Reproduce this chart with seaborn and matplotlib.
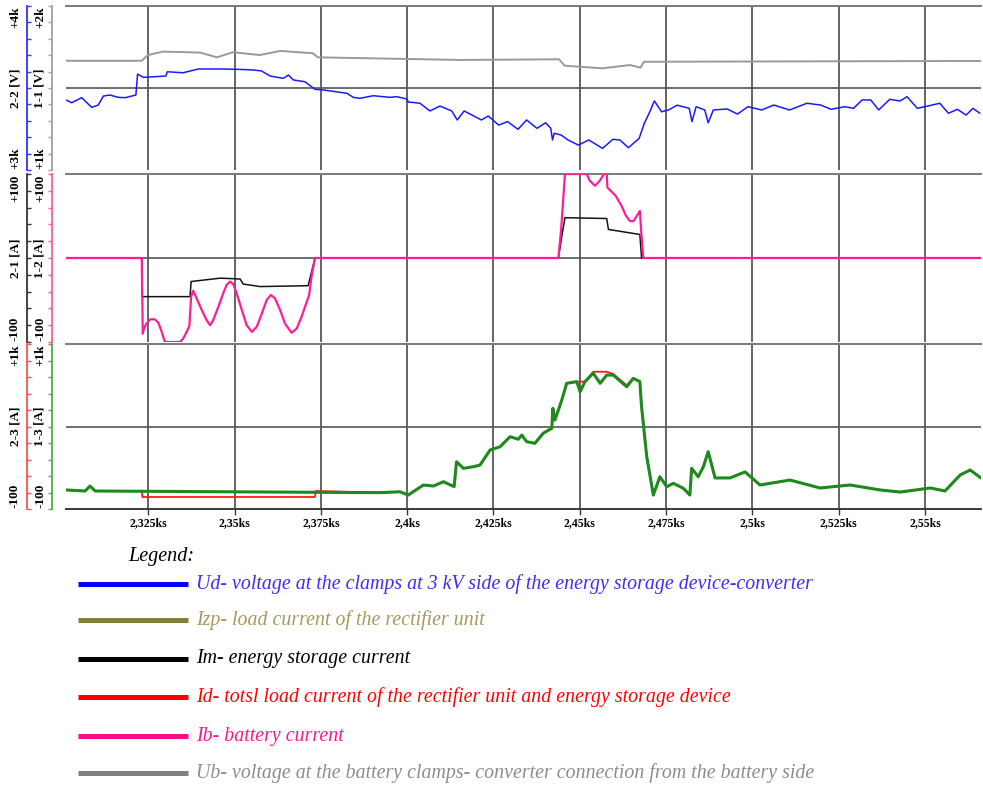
import numpy as np
import matplotlib
matplotlib.use("Agg")
import matplotlib.pyplot as plt
from matplotlib.lines import Line2D
import seaborn as sns

# ---------------- recorded traces (time in ks) ----------------
# Ud - 3 kV side voltage [V]
ud_t = [2.3012, 2.3028, 2.3057, 2.3086, 2.3105, 2.3120, 2.3139, 2.3163, 2.3183, 2.3214,
        2.3219, 2.3236, 2.3301, 2.3305, 2.3351, 2.3395, 2.3458, 2.3506, 2.3554, 2.3578,
        2.3603, 2.3641, 2.3656, 2.3670, 2.3704, 2.3733, 2.3757, 2.3825, 2.3844, 2.3863,
        2.3902, 2.3950, 2.3970, 2.3999, 2.4003, 2.4037, 2.4066, 2.4095, 2.4129, 2.4145,
        2.4165, 2.4215, 2.4235, 2.4265, 2.4291, 2.4321, 2.4346, 2.4376, 2.4401, 2.4416,
        2.4421, 2.4426, 2.4446, 2.4466, 2.4496, 2.4526, 2.4566, 2.4596, 2.4616, 2.4641,
        2.4672, 2.4687, 2.4701, 2.4716, 2.4737, 2.4757, 2.4782, 2.4817, 2.4825, 2.4837,
        2.4862, 2.4872, 2.4887, 2.4927, 2.4957, 2.4987, 2.5027, 2.5062, 2.5108, 2.5158,
        2.5198, 2.5228, 2.5268, 2.5293, 2.5318, 2.5343, 2.5366, 2.5398, 2.5428, 2.5448,
        2.5478, 2.5508, 2.5543, 2.5568, 2.5594, 2.5619, 2.5639, 2.5659]
ud_v = [3427, 3410, 3441, 3382, 3396, 3451, 3457, 3443, 3441, 3457,
        3585, 3565, 3573, 3599, 3593, 3616, 3616, 3614, 3610, 3604,
        3573, 3559, 3579, 3549, 3538, 3492, 3488, 3468, 3443, 3437,
        3453, 3443, 3447, 3433, 3415, 3407, 3360, 3390, 3360, 3305,
        3360, 3305, 3329, 3274, 3295, 3248, 3305, 3254, 3288, 3254,
        3183, 3224, 3213, 3183, 3152, 3183, 3132, 3187, 3183, 3136,
        3193, 3285, 3346, 3421, 3355, 3366, 3395, 3376, 3295, 3386,
        3366, 3288, 3366, 3372, 3341, 3386, 3366, 3396, 3366, 3407,
        3396, 3370, 3386, 3376, 3427, 3427, 3366, 3431, 3421, 3447,
        3376, 3390, 3407, 3346, 3370, 3335, 3376, 3346]

# Ub - battery side voltage [V]
ub_t = [2.3012, 2.3231, 2.3249, 2.3293, 2.3400, 2.3449, 2.3495, 2.3573, 2.3632, 2.3727,
        2.3741, 2.4153, 2.4440, 2.4456, 2.4566, 2.4645, 2.4676, 2.4686, 2.5662]
ub_v = [1666, 1666, 1701, 1722, 1716, 1687, 1718, 1701, 1726, 1712,
        1687, 1671, 1675, 1636, 1620, 1640, 1624, 1660, 1665]

# Im - energy storage current [A]
im_t = [2.3012, 2.3231, 2.3232, 2.3371, 2.3374, 2.3458, 2.3516, 2.3525, 2.3574, 2.3713,
        2.3733, 2.4438, 2.4448, 2.4457, 2.4578, 2.4583, 2.4674, 2.4679, 2.5662]
im_v = [0, 0, -46, -46, -28, -24, -25, -31, -34, -33,
        0, 0, 26, 48, 47, 34, 28, 0, 0]

# Ib - battery current [A]
ib_t = [2.3012, 2.3231, 2.3234, 2.3236, 2.3243, 2.3255, 2.3269, 2.3279, 2.3289, 2.3298,
        2.3342, 2.3351, 2.3361, 2.3369, 2.3374, 2.3380, 2.3390, 2.3405, 2.3419, 2.3429,
        2.3438, 2.3453, 2.3467, 2.3477, 2.3487, 2.3496, 2.3506, 2.3521, 2.3535, 2.3550,
        2.3564, 2.3579, 2.3593, 2.3605, 2.3617, 2.3632, 2.3646, 2.3665, 2.3680, 2.3694,
        2.3709, 2.3716, 2.3723, 2.3733,
        2.4438, 2.4446, 2.4452, 2.4457, 2.4520, 2.4529, 2.4544, 2.4558, 2.4570, 2.4578,
        2.4580, 2.4587, 2.4604, 2.4621, 2.4633, 2.4645, 2.4656, 2.4668, 2.4674, 2.4679,
        2.4684, 2.5662]
ib_v = [0, 0, -90, -86, -79, -73, -73, -77, -88, -100,
        -100, -96, -88, -81, -46, -39, -48, -62, -74, -80,
        -74, -58, -42, -32, -28, -31, -42, -62, -80, -88,
        -82, -66, -50, -44, -48, -62, -78, -89, -84, -70,
        -52, -44, -22, 0,
        0, 34, 70, 100, 100, 92, 86, 92, 100, 100,
        84, 81, 74, 62, 51, 44, 44, 52, 56, 26,
        0, 0]

# Izp - rectifier unit load current [A]
izp_t = [2.3012, 2.3067, 2.3081, 2.3096, 2.3921, 2.3979, 2.4003, 2.4047, 2.4076, 2.4105,
         2.4136, 2.4143, 2.4163, 2.4192, 2.4211, 2.4240, 2.4269, 2.4298, 2.4322, 2.4332,
         2.4346, 2.4370, 2.4394, 2.4419, 2.4422, 2.4428, 2.4448, 2.4462, 2.4491, 2.4501,
         2.4515, 2.4539, 2.4559, 2.4578, 2.4597, 2.4636, 2.4655, 2.4674, 2.4679, 2.4694,
         2.4713, 2.4732, 2.4752, 2.4771, 2.4800, 2.4819, 2.4824, 2.4843, 2.4858, 2.4872,
         2.4892, 2.4935, 2.4979, 2.5022, 2.5109, 2.5196, 2.5283, 2.5370, 2.5428, 2.5515,
         2.5558, 2.5602, 2.5631, 2.5662]
izp_v = [27, 20, 53, 20, 9, 15, -7, 60, 53, 82,
         49, 215, 171, 182, 193, 293, 315, 382, 365, 393,
         349, 338, 405, 438, 571, 493, 627, 738, 749, 682,
         749, 805, 738, 793, 793, 715, 771, 749, 582, 249,
         -7, 115, 49, 71, 38, -7, 171, 115, 182, 282,
         107, 107, 147, 60, 93, 40, 60, 27, 13, 40,
         20, 127, 160, 107]

# Id - total load current [A]
id_t = [2.3012, 2.3067, 2.3081, 2.3096, 2.3231, 2.3233, 2.3733, 2.3735, 2.3921, 2.3979,
        2.4003, 2.4047, 2.4076, 2.4105, 2.4136, 2.4143, 2.4163, 2.4192, 2.4211, 2.4240,
        2.4269, 2.4298, 2.4322, 2.4332, 2.4346, 2.4370, 2.4394, 2.4419, 2.4422, 2.4428,
        2.4448, 2.4462, 2.4491, 2.4501, 2.4515, 2.4539, 2.4578, 2.4597, 2.4636, 2.4655,
        2.4674, 2.4679, 2.4694, 2.4713, 2.4732, 2.4752, 2.4771, 2.4800, 2.4819, 2.4824,
        2.4843, 2.4858, 2.4872, 2.4892, 2.4935, 2.4979, 2.5022, 2.5109, 2.5196, 2.5283,
        2.5370, 2.5428, 2.5515, 2.5558, 2.5602, 2.5631, 2.5662]
id_v = [27, 20, 53, 20, 20, -20, -20, 20, 9, 15,
        -7, 60, 53, 82, 49, 215, 171, 182, 193, 293,
        315, 382, 365, 393, 349, 338, 405, 438, 571, 493,
        627, 738, 749, 749, 749, 815, 815, 800, 725, 771,
        749, 582, 249, -7, 115, 49, 71, 38, -7, 171,
        115, 182, 282, 107, 107, 147, 60, 93, 40, 60,
        27, 13, 40, 20, 127, 160, 107]

x_ticks = [2.325, 2.35, 2.375, 2.4, 2.425, 2.45, 2.475, 2.5, 2.525, 2.55]
x_tick_labels = ["2,325ks", "2,35ks", "2,375ks", "2,4ks", "2,425ks",
                 "2,45ks", "2,475ks", "2,5ks", "2,525ks", "2,55ks"]
x_range = (2.30116, 2.56623)

# left scales: (name, top label, bottom label, low, high)
scale_ud = ("2-2 [V]", "+4k", "+3k", 3000, 4000)
scale_ub = ("1-1 [V]", "+2k", "+1k", 1000, 2000)
scale_im = ("2-1 [A]", "+100", "-100", -100, 100)
scale_ib = ("1-2 [A]", "+100", "-100", -100, 100)
scale_id = ("2-3 [A]", "+1k", "-100", -100, 1000)
scale_izp = ("1-3 [A]", "+1k", "-100", -100, 1000)

legend_labels = [
    "Ud- voltage at the clamps at 3 kV side of the energy storage device-converter",
    "Izp- load current of the rectifier unit",
    "Im- energy storage current",
    "Id- totsl load current of the rectifier unit and energy storage device",
    "Ib- battery current",
    "Ub- voltage at the battery clamps- converter connection from the battery side",
]

# ---------------- styling ----------------
sns.set_theme(style="white")
plt.rcParams["font.family"] = ["Liberation Serif", "DejaVu Serif"]

C_UD, C_UB = "#1a1aff", "#999999"
C_IM, C_IB = "#141414", "#ff1c94"
C_ID, C_IZP = "#ff1a1a", "#1e8a1e"
legend_line_colors = ["#0000ff", "#80803c", "#000000", "#ff0000", "#ff0a8c", "#808080"]
legend_text_colors = ["#3a2cff", "#a8985c", "#000000", "#ff0000", "#ff1490", "#8c8c8c"]

W, H = 983, 787
fig = plt.figure(figsize=(W / 100, H / 100), dpi=100)
fig.patch.set_facecolor("white")

PLOT_L, PLOT_R = 66, 981


def box(top, bottom):
    return [PLOT_L / W, 1 - bottom / H, (PLOT_R - PLOT_L) / W, (bottom - top) / H]


def px_to_axfrac(px):
    return (px - PLOT_L) / (PLOT_R - PLOT_L)


def scale_labels(ax, xpx, scale):
    name, top, bottom, _, _ = scale
    x = px_to_axfrac(xpx)
    kw = dict(transform=ax.transAxes, rotation=90, ha="center", fontsize=9.5,
              fontweight="bold", color="black", clip_on=False)
    ax.text(x, 0.995, top, va="top", **kw)
    ax.text(x, 0.5, name, va="center", **kw)
    ax.text(x, 0.005, bottom, va="bottom", **kw)


def make_panel(top, bottom, outer, outer_col, inner, inner_col, last=False):
    ax = fig.add_axes(box(top, bottom))
    ax2 = ax.twinx()
    for a in (ax, ax2):
        a.set_xlim(*x_range)
        a.patch.set_visible(False)
        for s in a.spines.values():
            s.set_visible(False)
        a.set_xlabel("")
        a.set_ylabel("")
    ax.set_ylim(outer[3], outer[4])
    ax2.set_ylim(inner[3], inner[4])

    # outer scale, ticks pointing into the chart
    sp = ax.spines["left"]
    sp.set_visible(True)
    sp.set_position(("outward", 28))
    sp.set_color(outer_col)
    sp.set_linewidth(1.3)
    ax.yaxis.set_ticks_position("left")
    ax.set_yticks(np.linspace(outer[3], outer[4], 11))
    ax.set_yticklabels([])
    ax.tick_params(axis="y", direction="in", length=3, width=1, colors=outer_col,
                   left=True, labelleft=False)

    # inner scale, ticks pointing outward
    sp2 = ax2.spines["left"]
    sp2.set_visible(True)
    sp2.set_position(("outward", 10))
    sp2.set_color(inner_col)
    sp2.set_linewidth(1.3)
    ax2.yaxis.set_ticks_position("left")
    ax2.set_yticks(np.linspace(inner[3], inner[4], 11))
    ax2.set_yticklabels([])
    ax2.tick_params(axis="y", direction="out", length=3, width=1, colors=inner_col,
                    left=True, right=False, labelleft=False, labelright=False)

    scale_labels(ax, 15, outer)
    scale_labels(ax, 40, inner)

    # vertical grid and frame lines
    ax.set_xticks(x_ticks)
    ax.xaxis.grid(True, color="#3a3a3a", linewidth=1.1)
    ax.yaxis.grid(False)
    ax2.grid(False)
    ax.spines["top"].set_visible(True)
    ax.spines["top"].set_color("#7a7a7a")
    ax.spines["top"].set_linewidth(1.4)
    ax.axhline((outer[3] + outer[4]) / 2, color="#555555", linewidth=1.2, zorder=1)

    if last:
        ax.spines["bottom"].set_visible(True)
        ax.spines["bottom"].set_color("#3a3a3a")
        ax.spines["bottom"].set_linewidth(1.4)
        ax.set_xticklabels(x_tick_labels)
        ax.tick_params(axis="x", direction="out", length=4, width=1, colors="#3a3a3a",
                       bottom=True, labelbottom=True, pad=2, labelsize=8.5,
                       labelcolor="black")
        for lab in ax.get_xticklabels():
            lab.set_fontweight("bold")
    else:
        ax.tick_params(axis="x", bottom=False, labelbottom=False)
    ax2.tick_params(axis="x", bottom=False, labelbottom=False, top=False, labeltop=False)
    return ax, ax2


def trace(ax, t, v, color, lw):
    sns.lineplot(x=t, y=v, ax=ax, color=color, linewidth=lw, estimator=None,
                 sort=False, legend=False, zorder=3)
    ax.set_xlabel("")
    ax.set_ylabel("")


# panel 1: voltages
a1, b1 = make_panel(6, 170, scale_ud, "#3030ff", scale_ub, "#a0a0a0")
trace(a1, ud_t, ud_v, C_UD, 1.1)
trace(b1, ub_t, ub_v, C_UB, 1.4)

# panel 2: storage and battery currents
a2, b2 = make_panel(174, 342, scale_im, "#333333", scale_ib, "#ff5aaa")
trace(a2, im_t, im_v, C_IM, 1.1)
trace(b2, ib_t, ib_v, C_IB, 1.6)

# panel 3: load currents
a3, b3 = make_panel(344, 509, scale_id, "#ff5050", scale_izp, "#4caf4c", last=True)
trace(a3, id_t, id_v, C_ID, 1.3)
trace(b3, izp_t, izp_v, C_IZP, 2.2)

# ---------------- legend block ----------------
fig.text(128 / W, 1 - 557 / H, "Legend:", ha="left", va="center", style="italic",
         fontsize=14.5, color="black")
legend_rows_px = [584, 620, 659, 697, 736, 773]
for y, lab, lc, tc in zip(legend_rows_px, legend_labels, legend_line_colors, legend_text_colors):
    yf = 1 - y / H
    fig.add_artist(Line2D([78 / W, 188 / W], [yf, yf], transform=fig.transFigure,
                          color=lc, linewidth=3.6, solid_capstyle="butt"))
    fig.text(196 / W, yf, lab, ha="left", va="center", style="italic",
             fontsize=14.3, color=tc)

fig.savefig("out.png", dpi=100, facecolor="white")
